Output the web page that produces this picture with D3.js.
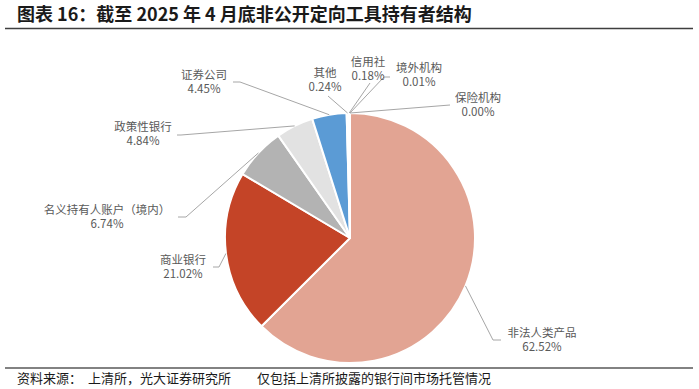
<!DOCTYPE html>
<html>
<head>
<meta charset="utf-8">
<script src="https://cdn.jsdelivr.net/npm/d3@7"></script>
<style>
  body{margin:0;background:#fff;}
  text{font-family:"Noto Sans CJK SC","Noto Sans",sans-serif;}
</style>
</head>
<body>
<script>
// holders and their share (%)
var holders = ["非法人类产品","商业银行","名义持有人账户（境内）","政策性银行","证券公司","其他","信用社","境外机构","保险机构"];
var shares  = [62.52, 21.02, 6.74, 4.84, 4.45, 0.24, 0.18, 0.01, 0.00];
var colors  = ["#E2A493","#C44427","#B3B3B3","#E2E2E2","#5B9BD5","#F2C09F","#A5A5A5","#FFC000","#4472C4"];

// where Excel left each label (text centre + leader bends)
var labelLayout = {
  "非法人类产品":        {x:542, y:340, bends:[[493,340],[501,340]]},
  "商业银行":            {x:183, y:267, bends:[[219,267],[213,267]]},
  "名义持有人账户（境内）":{x:107, y:217, bends:[[186,217],[178,217]]},
  "政策性银行":          {x:143, y:134, bends:[[181,135],[177,135]]},
  "证券公司":            {x:204, y:82,  bends:[[240,82],[233,82]]},
  "其他":               {x:325, y:80,  bends:[[328,96]]},
  "信用社":             {x:368, y:69,  bends:[[370,83]]},
  "境外机构":            {x:419, y:75,  bends:[[384,77],[390,77]]},
  "保险机构":            {x:478, y:105, bends:[[450,105]]}
};

var width=699,height=389;
var cx=350,cy=238,r=125;

var svg=d3.select("body").append("svg")
  .attr("width",width)
  .attr("height",height);

// title
svg.append("text")
  .attr("x",17).attr("y",21)
  .style("font-size","18px").style("font-weight","bold").style("fill","#1a1a1a")
  .text("图表 16：截至 2025 年 4 月底非公开定向工具持有者结构");
svg.append("line")
  .attr("x1",5).attr("x2",693).attr("y1",28.5).attr("y2",28.5)
  .style("stroke","#3f3f3f").style("stroke-width",1.5);

var data=holders.map(function(h,i){return {name:h,value:shares[i],color:colors[i]};});

var pie=d3.pie().sort(null).value(function(d){return d.value;});
var arc=d3.arc().innerRadius(0).outerRadius(r);
var edge=d3.arc().innerRadius(r).outerRadius(r);

var g=svg.append("g").attr("transform","translate("+cx+","+cy+")");
var slices=pie(data);

g.selectAll(".slice")
  .data(slices)
  .enter().append("path")
    .attr("class","slice")
    .attr("d",arc)
    .style("fill",function(d){return d.data.color;})
    .style("stroke","#fff")
    .style("stroke-width",2)
    .style("stroke-linejoin","round");

// leader lines
svg.selectAll(".leader")
  .data(slices)
  .enter().append("polyline")
    .attr("class","leader")
    .attr("points",function(d){
      var p=edge.centroid(d);
      var pts=[[cx+p[0],cy+p[1]]].concat(labelLayout[d.data.name].bends);
      return pts.map(function(q){return q.join(",");}).join(" ");
    })
    .style("fill","none")
    .style("stroke","#A6A6A6")
    .style("stroke-width",1);

// labels
var lab=svg.selectAll(".lab")
  .data(slices)
  .enter().append("text")
    .attr("class","lab")
    .attr("text-anchor","middle")
    .style("font-size","11.5px")
    .style("fill","#595959");
lab.append("tspan")
  .attr("x",function(d){return labelLayout[d.data.name].x;})
  .attr("y",function(d){return labelLayout[d.data.name].y-3;})
  .text(function(d){return d.data.name;});
lab.append("tspan")
  .attr("x",function(d){return labelLayout[d.data.name].x;})
  .attr("y",function(d){return labelLayout[d.data.name].y+11;})
  .text(function(d){return d3.format(".2f")(d.data.value)+"%";});

// footer
svg.append("line")
  .attr("x1",5).attr("x2",693).attr("y1",368).attr("y2",368)
  .style("stroke","#595959").style("stroke-width",1.5);
var foot=svg.append("g").style("font-size","13px").style("fill","#1a1a1a");
foot.append("text").attr("x",17).attr("y",383).text("资料来源：");
foot.append("text").attr("x",88).attr("y",383).text("上清所，光大证券研究所");
foot.append("text").attr("x",257).attr("y",383).text("仅包括上清所披露的银行间市场托管情况");
</script>
</body>
</html>
